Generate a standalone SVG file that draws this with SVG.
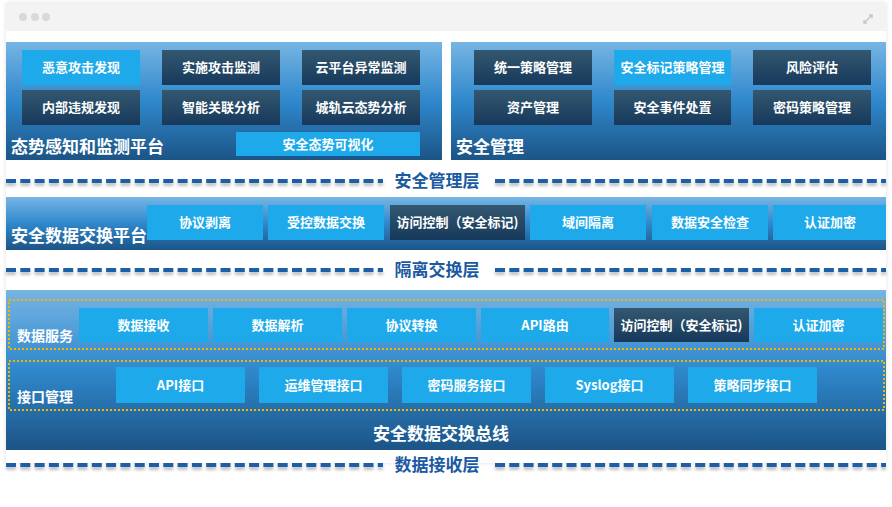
<svg xmlns="http://www.w3.org/2000/svg" width="892" height="507" viewBox="0 0 892 507">
<defs>
<linearGradient id="panel" x1="0" y1="0" x2="0" y2="1">
<stop offset="0" stop-color="#76b5e4"/>
<stop offset="0.5" stop-color="#2f88cc"/>
<stop offset="1" stop-color="#1c5486"/>
</linearGradient>
<linearGradient id="dark" x1="0" y1="0" x2="0" y2="1">
<stop offset="0" stop-color="#34586f"/>
<stop offset="1" stop-color="#16395c"/>
</linearGradient>
<filter id="sh" x="-5%" y="-100%" width="110%" height="400%">
<feDropShadow dx="0" dy="3" stdDeviation="1.5" flood-color="#000" flood-opacity="0.25"/>
</filter>
<filter id="win" x="-5%" y="-5%" width="110%" height="110%">
<feDropShadow dx="0" dy="0" stdDeviation="2" flood-color="#000" flood-opacity="0.12"/>
</filter>
</defs>
<style>
text{font-family:"Noto Sans CJK SC","Liberation Sans",sans-serif;font-weight:bold}
.lt{fill:#1eaaea}
.dk{fill:url(#dark)}
.bt{fill:#fff;font-size:13px;text-anchor:middle}
.tt{fill:#fff;font-size:17px}
.sm{fill:#fff;font-size:14px}
.ly{fill:#1a5aa2;font-size:17px;text-anchor:middle}
.dash{stroke:#1a5fa8;stroke-width:4;stroke-dasharray:10 4.3;fill:none}
.dot{stroke:#f2b600;stroke-width:2;stroke-dasharray:2 2;fill:none}
</style>
<rect width="892" height="507" fill="#fff"/>
<g id="window">
<rect x="6" y="3" width="880" height="460" fill="#fff" filter="url(#win)"/>
<rect x="6" y="3" width="880" height="28" fill="#f3f3f3"/>
<circle cx="23" cy="17" r="4" fill="#d9d9d9"/>
<circle cx="35" cy="17" r="4" fill="#d9d9d9"/>
<circle cx="46" cy="17" r="4" fill="#d9d9d9"/>
<path d="M864 23 L872 15 M869 15 L872 15 L872 18 M864 20 L864 23 L867 23" stroke="#c8c8c8" stroke-width="1.5" fill="none"/>
</g>
<g id="connectors">
<g filter="url(#sh)">
<line class="dash" x1="6" y1="181" x2="383" y2="181"/>
<line class="dash" x1="495" y1="181" x2="886" y2="181"/>
<line class="dash" x1="6" y1="270" x2="383" y2="270"/>
<line class="dash" x1="495" y1="270" x2="886" y2="270"/>
<line class="dash" x1="6" y1="465" x2="383" y2="465"/>
<line class="dash" x1="495" y1="465" x2="886" y2="465"/>
</g>
<text class="ly" x="437" y="187">安全管理层</text>
<text class="ly" x="437" y="276">隔离交换层</text>
<text class="ly" x="437" y="471">数据接收层</text>
</g>
<g id="situation-platform">
<rect x="6" y="42" width="436" height="118" fill="url(#panel)"/>
<rect class="lt" x="22" y="50" width="118" height="35"/><text class="bt" x="81" y="72">恶意攻击发现</text>
<rect class="dk" x="162" y="50" width="118" height="35"/><text class="bt" x="221" y="72">实施攻击监测</text>
<rect class="dk" x="302" y="50" width="118" height="35"/><text class="bt" x="361" y="72">云平台异常监测</text>
<rect class="dk" x="22" y="90" width="118" height="35"/><text class="bt" x="81" y="112">内部违规发现</text>
<rect class="dk" x="162" y="90" width="118" height="35"/><text class="bt" x="221" y="112">智能关联分析</text>
<rect class="dk" x="302" y="90" width="118" height="35"/><text class="bt" x="361" y="112">城轨云态势分析</text>
<rect class="lt" x="236" y="132" width="184" height="24"/><text class="bt" x="328" y="149">安全态势可视化</text>
<text class="tt" x="11" y="153">态势感知和监测平台</text>
</g>
<g id="security-management">
<rect x="451" y="42" width="435" height="118" fill="url(#panel)"/>
<rect class="dk" x="474" y="50" width="118" height="35"/><text class="bt" x="533" y="72">统一策略管理</text>
<rect class="lt" x="614" y="50" width="117" height="35"/><text class="bt" x="672.5" y="72">安全标记策略管理</text>
<rect class="dk" x="753" y="50" width="118" height="35"/><text class="bt" x="812" y="72">风险评估</text>
<rect class="dk" x="474" y="90" width="118" height="35"/><text class="bt" x="533" y="112">资产管理</text>
<rect class="dk" x="614" y="90" width="117" height="35"/><text class="bt" x="672.5" y="112">安全事件处置</text>
<rect class="dk" x="753" y="90" width="118" height="35"/><text class="bt" x="812" y="112">密码策略管理</text>
<text class="tt" x="456" y="153">安全管理</text>
</g>
<g id="exchange-platform">
<rect x="6" y="197" width="880" height="53" fill="url(#panel)"/>
<rect class="lt" x="147" y="205" width="116" height="35"/><text class="bt" x="205" y="227">协议剥离</text>
<rect class="lt" x="268" y="205" width="116" height="35"/><text class="bt" x="326" y="227">受控数据交换</text>
<rect class="dk" x="390" y="205" width="135" height="35"/><text class="bt" x="457.5" y="227">访问控制（安全标记)</text>
<rect class="lt" x="530" y="205" width="116" height="35"/><text class="bt" x="588" y="227">域间隔离</text>
<rect class="lt" x="652" y="205" width="116" height="35"/><text class="bt" x="710" y="227">数据安全检查</text>
<rect class="lt" x="773" y="205" width="113" height="35"/><text class="bt" x="830" y="227">认证加密</text>
<text class="tt" x="11" y="242">安全数据交换平台</text>
</g>
<g id="exchange-bus">
<rect x="6" y="290" width="880" height="160" fill="url(#panel)"/>
<text class="tt" x="441" y="440" text-anchor="middle">安全数据交换总线</text>
</g>
<g id="data-service">
<rect class="dot" x="9" y="300" width="875" height="49"/>
<text class="sm" x="17" y="341">数据服务</text>
<rect class="lt" x="79" y="308" width="129" height="34"/><text class="bt" x="143.5" y="330">数据接收</text>
<rect class="lt" x="213" y="308" width="129" height="34"/><text class="bt" x="277.5" y="330">数据解析</text>
<rect class="lt" x="347" y="308" width="129" height="34"/><text class="bt" x="411.5" y="330">协议转换</text>
<rect class="lt" x="481" y="308" width="128" height="34"/><text class="bt" x="545" y="330">API路由</text>
<rect class="dk" x="614" y="308" width="135" height="34"/><text class="bt" x="681.5" y="330">访问控制（安全标记)</text>
<rect class="lt" x="754" y="308" width="129" height="34"/><text class="bt" x="818.5" y="330">认证加密</text>
</g>
<g id="interface-management">
<rect class="dot" x="9" y="361" width="875" height="49"/>
<text class="sm" x="17" y="402">接口管理</text>
<rect class="lt" x="116" y="367" width="129" height="36"/><text class="bt" x="180.5" y="390">API接口</text>
<rect class="lt" x="259" y="367" width="129" height="36"/><text class="bt" x="323.5" y="390">运维管理接口</text>
<rect class="lt" x="402" y="367" width="129" height="36"/><text class="bt" x="466.5" y="390">密码服务接口</text>
<rect class="lt" x="545" y="367" width="129" height="36"/><text class="bt" x="609.5" y="390">Syslog接口</text>
<rect class="lt" x="688" y="367" width="129" height="36"/><text class="bt" x="752.5" y="390">策略同步接口</text>
</g>
</svg>
